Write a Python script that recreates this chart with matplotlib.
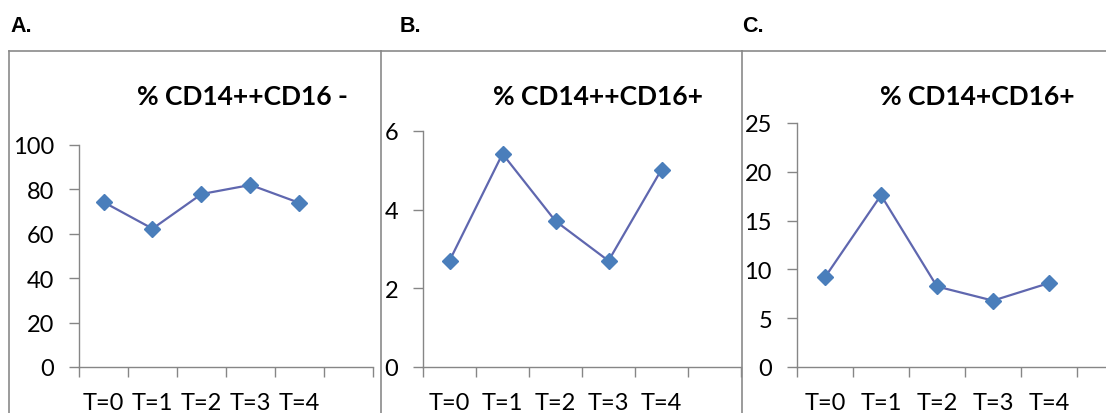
import matplotlib.pyplot as plt
from matplotlib.lines import Line2D
from matplotlib.ticker import FixedLocator, NullFormatter, FixedFormatter

W, H = 1106, 414

categories = ["T=0", "T=1", "T=2", "T=3", "T=4"]
vals_a = [74.3, 62.3, 77.9, 82.0, 73.9]
vals_b = [2.70, 5.42, 3.71, 2.70, 5.02]
vals_c = [9.2, 17.6, 8.25, 6.8, 8.6]

titles = ["% CD14++CD16 -", "% CD14++CD16+", "% CD14+CD16+"]
letters = ["A.", "B.", "C."]
yticks = [[0, 20, 40, 60, 80, 100], [0, 2, 4, 6], [0, 5, 10, 15, 20, 25]]

line_col = "#5F67AF"
mark_col = "#4A7EBB"
axis_col = "#868686"
box_col = "#8a8a8a"

plt.rcParams['font.family'] = ['Lato', 'DejaVu Sans']

fig = plt.figure(figsize=(W / 100, H / 100), dpi=100)


def px_axes(left, top, right, bottom):
    return fig.add_axes([left / W, 1 - bottom / H, (right - left) / W, (bottom - top) / H])


# panel frames (left, right) in pixels
frames = [(9, 381), (381, 742), (742, 1106)]
for x0, x1 in frames:
    fig.add_artist(Line2D([x0 / W, x0 / W], [0, 1 - 52 / H], transform=fig.transFigure,
                          color=box_col, lw=1.2))
    fig.add_artist(Line2D([x0 / W, x1 / W], [1 - 52 / H, 1 - 52 / H], transform=fig.transFigure,
                          color=box_col, lw=1.2))

# axes placement: left, top(ymax), right, bottom(y=0)
boxes = [(79, 146, 373, 368), (423, 132, 741, 368), (797, 124, 1133, 368)]
data = [vals_a, vals_b, vals_c]
title_x = [242, 598, 977]
letter_x = [10, 400, 742]

x = [i + 0.5 for i in range(len(categories))]

for k in range(3):
    ax = px_axes(*boxes[k])
    ax.plot(x, data[k], color=line_col, lw=1.6, marker="D", ms=8,
            mfc=mark_col, mec=mark_col, clip_on=False)
    ax.set_xlim(0, 6)
    ax.set_ylim(0, yticks[k][-1])
    for s in ["top", "right"]:
        ax.spines[s].set_visible(False)
    for s in ["left", "bottom"]:
        ax.spines[s].set_color(axis_col)
        ax.spines[s].set_linewidth(1.0)
    ax.xaxis.set_major_locator(FixedLocator(range(7)))
    ax.xaxis.set_major_formatter(NullFormatter())
    ax.xaxis.set_minor_locator(FixedLocator(x))
    ax.xaxis.set_minor_formatter(FixedFormatter(categories))
    ax.tick_params(axis="x", which="major", length=7, width=1, color=axis_col)
    ax.tick_params(axis="x", which="minor", length=0, pad=18, labelsize=17)
    ax.set_yticks(yticks[k])
    ax.tick_params(axis="y", length=7, width=1, color=axis_col, pad=11, labelsize=17)
    fig.text(title_x[k] / W, 1 - 97 / H, titles[k], ha="center", va="center",
             fontsize=19, fontweight="bold")
    fig.text(letter_x[k] / W, 1 - 26 / H, letters[k], ha="left", va="center",
             fontsize=15.5, fontweight="bold", family="Liberation Sans")

fig.savefig("out.png", dpi=100)
